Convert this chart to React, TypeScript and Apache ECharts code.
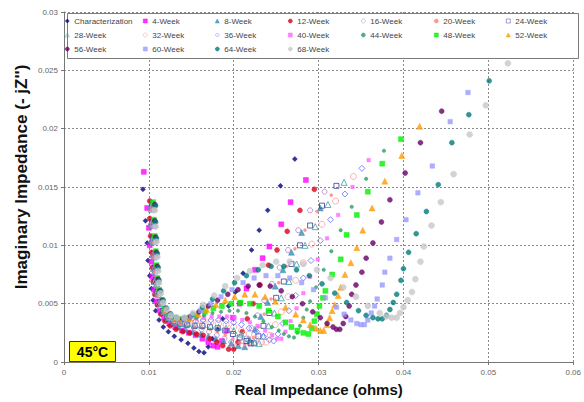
import React, { useEffect, useRef } from "react";
import * as echarts from "echarts";

// values in milli-ohms [Z', -Z'']
const seriesNames = [
  "Characterization", "4-Week", "8-Week", "12-Week", "16-Week", "20-Week", "24-Week",
  "28-Week", "32-Week", "36-Week", "40-Week", "44-Week", "48-Week", "52-Week",
  "56-Week", "60-Week", "64-Week", "68-Week",
];
const seriesColors = [
  "#000080", "#FF00FF", "#2F8FB5", "#D8001A", "#B07FC8", "#FF7F7F", "#3A3A9A",
  "#3AA3A3", "#FF9A9A", "#6A6AFF", "#FF66FF", "#2E9A66", "#00F000", "#FF9900",
  "#660066", "#9A9AFF", "#007B7B", "#C8C8C8",
];
const seriesSymbols = [
  "diamond", "rect", "triangle", "circle", "circle", "circle", "rect",
  "triangle", "circle", "diamond", "rect", "circle", "rect", "triangle",
  "circle", "rect", "circle", "circle",
];
const seriesHollow = [
  false, false, false, false, true, false, true,
  true, true, true, false, false, false, false,
  false, false, false, false,
];
const seriesSizes = [5, 5, 6, 5, 5, 3, 5, 6, 6, 6, 3.5, 3.5, 5, 6, 5, 4.5, 5, 6];

const characterization = [[9.3,14.8],[9.6,12.1],[9.8,10.2],[9.9,8.7],[10.1,7.4],[10.3,6.3],[10.5,5.3],[10.8,4.4],[11.2,3.6],[11.7,3.0],[12.3,2.6],[13.0,2.2],[13.8,1.9],[14.6,1.6],[15.3,1.2],[15.9,0.9],[16.5,0.8],[17.0,1.3],[17.5,2.0],[18.1,2.8],[18.7,3.7],[19.4,4.8],[20.2,6.0],[21.1,7.6],[22.1,9.6],[23.0,11.3],[24.0,13.0],[25.5,15.1],[27.2,17.4]];
const week4 = [[9.4,16.3],[9.8,13.2],[10.0,11.5],[10.1,10.0],[10.3,8.6],[10.4,7.3],[10.6,6.2],[10.9,5.2],[11.3,4.4],[11.8,3.8],[12.4,3.3],[13.1,3.0],[13.9,2.7],[14.7,2.5],[15.5,2.3],[16.3,2.0],[17.0,1.7],[17.6,1.4],[18.1,1.3],[18.6,1.8],[19.2,2.7],[19.9,3.8],[20.7,5.0],[21.5,6.3],[22.5,7.9],[23.4,8.9],[24.2,9.9],[25.6,11.8],[26.7,13.7],[28.5,15.6]];
const week8 = [[10.2,13.4],[10.2,11.9],[10.3,10.5],[10.4,9.2],[10.5,8.0],[10.6,6.9],[10.8,5.9],[11.1,5.0],[11.5,4.3],[12.0,3.7],[12.7,3.3],[13.5,3.0],[14.3,2.8],[15.2,2.6],[16.1,2.4],[17.0,2.2],[17.9,2.0],[18.8,1.8],[19.7,1.6],[20.5,1.4],[21.3,1.3],[21.9,1.9],[22.5,2.8],[23.2,3.9],[24.0,5.1],[24.9,6.5],[25.8,7.9],[26.8,9.4],[28.0,11.1],[30.2,13.2]];
const week12 = [[10.1,13.8],[10.1,12.3],[10.2,10.8],[10.3,9.4],[10.4,8.1],[10.5,6.9],[10.7,5.8],[11.0,4.9],[11.4,4.1],[11.9,3.5],[12.5,3.1],[13.2,2.8],[14.0,2.6],[14.8,2.5],[15.6,2.4],[16.4,2.3],[17.2,2.0],[18.0,1.7],[18.7,1.4],[19.4,1.1],[20.0,1.1],[20.5,1.7],[21.0,2.6],[21.6,3.7],[22.3,5.0],[23.1,6.6],[24.1,8.3],[25.1,9.6],[26.3,11.2],[27.8,13.0],[29.5,14.8]];
const week16 = [[10.3,13.2],[10.3,11.8],[10.4,10.4],[10.5,9.1],[10.6,7.9],[10.7,6.8],[10.9,5.8],[11.2,5.0],[11.6,4.3],[12.1,3.8],[12.8,3.4],[13.6,3.2],[14.4,3.0],[15.3,2.9],[16.2,2.8],[17.1,2.6],[18.0,2.3],[18.9,2.0],[19.7,1.7],[20.4,1.4],[21.0,1.4],[21.5,2.0],[22.1,2.9],[22.8,4.0],[23.6,5.3],[24.5,6.7],[25.4,8.1],[26.4,9.6],[27.6,11.3],[29.0,13.0],[30.7,14.6]];
const week20 = [[10.2,13.0],[10.3,11.6],[10.4,10.2],[10.5,8.9],[10.6,7.7],[10.8,6.6],[11.0,5.7],[11.3,4.9],[11.7,4.2],[12.2,3.7],[12.9,3.4],[13.7,3.2],[14.5,3.1],[15.4,3.0],[16.3,2.9],[17.2,2.8],[18.1,2.6],[19.0,2.3],[19.9,2.0],[20.7,1.7],[21.3,1.5],[21.8,1.5],[22.3,2.1],[22.9,3.0],[23.6,4.1],[24.4,5.4],[25.3,6.8],[26.2,8.2],[27.2,9.7],[28.4,11.3],[29.8,12.9],[31.5,14.3]];
const week24 = [[10.4,13.5],[10.4,12.0],[10.5,10.6],[10.6,9.3],[10.7,8.1],[10.8,7.0],[11.0,6.0],[11.3,5.1],[11.7,4.4],[12.2,3.9],[12.9,3.5],[13.7,3.3],[14.5,3.2],[15.4,3.1],[16.3,3.1],[17.2,3.0],[18.1,2.9],[19.0,2.7],[19.9,2.4],[20.7,2.1],[21.5,1.8],[22.0,1.6],[22.4,1.6],[22.9,2.2],[23.5,3.1],[24.2,4.2],[25.0,5.5],[25.9,6.9],[26.8,8.4],[27.8,10.0],[29.0,11.7],[30.4,13.4],[32.1,15.1]];
const week28 = [[10.3,13.1],[10.4,11.7],[10.5,10.3],[10.6,9.0],[10.7,7.8],[10.9,6.7],[11.1,5.8],[11.4,5.0],[11.8,4.3],[12.3,3.8],[13.0,3.5],[13.8,3.3],[14.6,3.3],[15.5,3.2],[16.4,3.2],[17.3,3.1],[18.2,3.0],[19.1,2.9],[20.0,2.7],[20.9,2.4],[21.7,2.0],[22.4,1.7],[23.0,1.6],[23.5,2.2],[24.1,3.1],[24.8,4.2],[25.6,5.5],[26.5,6.9],[27.4,8.4],[28.4,10.0],[29.6,11.6],[31.1,13.5],[33.0,15.4]];
const week32 = [[10.5,13.3],[10.5,11.9],[10.6,10.5],[10.7,9.2],[10.8,8.0],[10.9,6.9],[11.1,5.9],[11.4,5.1],[11.8,4.4],[12.3,3.9],[13.0,3.6],[13.8,3.4],[14.6,3.4],[15.5,3.4],[16.4,3.4],[17.3,3.4],[18.2,3.3],[19.1,3.2],[20.0,3.0],[20.9,2.7],[21.8,2.4],[22.6,2.0],[23.3,1.7],[23.8,1.7],[24.3,2.3],[24.9,3.2],[25.6,4.3],[26.4,5.6],[27.3,7.0],[28.2,8.5],[29.2,10.1],[30.4,11.8],[32.0,13.8],[34.1,15.9]];
const week36 = [[10.4,13.6],[10.5,12.1],[10.6,10.7],[10.7,9.4],[10.8,8.2],[10.9,7.1],[11.1,6.1],[11.4,5.2],[11.8,4.5],[12.3,4.0],[13.0,3.7],[13.8,3.5],[14.6,3.5],[15.5,3.5],[16.4,3.6],[17.3,3.6],[18.2,3.6],[19.1,3.5],[20.0,3.4],[20.9,3.2],[21.8,2.9],[22.7,2.6],[23.5,2.2],[24.2,1.9],[24.7,1.8],[25.2,2.4],[25.8,3.3],[26.5,4.4],[27.3,5.7],[28.2,7.2],[29.1,8.7],[30.2,10.4],[31.4,12.2],[33.1,14.4],[35.1,16.6]];
const week40 = [[10.5,13.0],[10.6,11.6],[10.7,10.3],[10.8,9.0],[10.9,7.9],[11.0,6.8],[11.2,5.9],[11.5,5.1],[11.9,4.5],[12.4,4.0],[13.1,3.7],[13.9,3.6],[14.7,3.6],[15.6,3.7],[16.5,3.8],[17.4,3.9],[18.3,3.9],[19.2,3.9],[20.1,3.8],[21.0,3.6],[21.9,3.4],[22.8,3.1],[23.7,2.7],[24.5,2.3],[25.1,2.0],[25.6,2.0],[26.1,2.6],[26.7,3.5],[27.4,4.6],[28.2,5.9],[29.0,7.3],[29.9,8.8],[31.0,10.6],[32.3,12.6],[34.0,15.0],[35.9,17.3]];
const week44 = [[10.6,13.4],[10.6,12.0],[10.7,10.6],[10.8,9.3],[10.9,8.1],[11.0,7.0],[11.2,6.0],[11.5,5.2],[11.9,4.5],[12.4,4.0],[13.1,3.7],[13.9,3.6],[14.7,3.7],[15.6,3.8],[16.5,4.0],[17.5,4.2],[18.5,4.3],[19.5,4.4],[20.5,4.4],[21.5,4.2],[22.5,3.9],[23.5,3.5],[24.5,3.0],[25.3,2.7],[25.9,2.4],[26.5,2.2],[27.1,2.1],[27.5,2.5],[27.8,3.1],[28.2,3.8],[28.6,4.5],[29.0,5.2],[29.7,6.4],[30.6,7.9],[31.5,9.5],[32.6,11.3],[33.9,13.3],[35.6,15.7],[37.7,18.1]];
const week48 = [[10.5,13.7],[10.6,12.2],[10.7,10.8],[10.8,9.5],[10.9,8.3],[11.0,7.2],[11.2,6.2],[11.5,5.3],[11.9,4.6],[12.4,4.1],[13.1,3.8],[13.9,3.7],[14.7,3.8],[15.6,4.0],[16.6,4.3],[17.6,4.6],[18.6,4.8],[19.7,5.0],[20.8,5.1],[21.9,5.0],[23.0,4.8],[24.1,4.4],[25.2,3.9],[26.1,3.4],[26.8,3.0],[27.5,2.7],[28.2,2.5],[28.8,2.4],[29.2,2.9],[29.5,3.5],[29.8,4.1],[30.1,4.8],[30.5,5.5],[30.8,6.1],[31.6,7.5],[32.6,8.8],[33.3,10.9],[34.5,12.6],[35.8,14.6],[37.5,17.0],[39.7,19.1]];
const week52 = [[10.6,13.2],[10.7,11.8],[10.8,10.5],[10.9,9.2],[11.0,8.0],[11.1,6.9],[11.3,6.0],[11.6,5.2],[12.0,4.5],[12.5,4.1],[13.2,3.8],[14.0,3.7],[14.8,3.8],[15.8,4.1],[16.8,4.5],[17.9,4.9],[19.0,5.3],[20.1,5.6],[21.3,5.8],[22.5,5.8],[23.7,5.6],[24.9,5.2],[26.1,4.7],[27.3,4.1],[28.2,3.6],[29.0,3.2],[29.7,2.9],[30.2,2.7],[30.6,2.7],[31.0,3.2],[31.3,3.8],[31.6,4.4],[31.9,4.9],[32.3,5.7],[32.6,6.4],[33.1,7.5],[33.8,8.5],[34.5,9.8],[35.2,11.3],[36.3,13.2],[37.8,15.5],[39.8,17.7],[41.9,20.2]];
const week56 = [[10.7,13.5],[10.7,12.1],[10.8,10.7],[10.9,9.4],[11.0,8.2],[11.1,7.1],[11.3,6.1],[11.6,5.3],[12.0,4.6],[12.5,4.1],[13.2,3.8],[14.0,3.7],[14.9,3.9],[15.9,4.3],[17.0,4.8],[18.1,5.3],[19.3,5.8],[20.5,6.2],[21.7,6.5],[23.0,6.6],[24.3,6.5],[25.6,6.1],[26.9,5.6],[28.1,5.0],[29.3,4.3],[30.2,3.8],[31.0,3.3],[31.7,3.0],[32.1,2.8],[32.5,2.8],[32.9,3.3],[33.2,3.9],[33.6,4.8],[33.9,5.8],[34.4,6.6],[35.1,7.7],[35.6,8.9],[36.4,10.2],[37.4,12.0],[38.4,13.9],[40.2,16.2],[42.0,18.8],[44.5,21.5]];
const week60 = [[10.6,13.1],[10.7,11.7],[10.8,10.4],[10.9,9.1],[11.0,7.9],[11.1,6.8],[11.3,5.9],[11.6,5.1],[12.0,4.5],[12.5,4.0],[13.2,3.8],[14.1,3.7],[15.0,3.9],[16.1,4.4],[17.3,5.0],[18.5,5.6],[19.8,6.2],[21.1,6.8],[22.4,7.2],[23.8,7.4],[25.2,7.4],[26.6,7.2],[28.0,6.8],[29.4,6.2],[30.8,5.5],[32.1,4.7],[33.0,4.1],[33.8,3.6],[34.5,3.3],[35.0,3.2],[35.4,3.2],[35.8,3.6],[36.2,4.2],[36.6,4.8],[36.9,5.4],[37.5,6.6],[37.8,7.7],[38.4,8.9],[39.2,10.5],[40.3,12.2],[41.7,14.5],[43.4,16.8],[45.5,20.6],[47.6,23.1]];
const week64 = [[10.8,13.4],[10.8,12.0],[10.9,10.6],[11.0,9.3],[11.1,8.1],[11.2,7.0],[11.4,6.1],[11.7,5.3],[12.1,4.6],[12.6,4.1],[13.3,3.8],[14.2,3.8],[15.2,4.1],[16.3,4.7],[17.5,5.4],[18.8,6.1],[20.1,6.8],[21.5,7.4],[22.9,7.9],[24.4,8.2],[25.9,8.2],[27.4,7.9],[28.9,7.4],[30.4,6.7],[31.9,5.9],[33.3,5.1],[34.7,4.4],[35.6,4.0],[36.4,3.8],[37.0,3.7],[37.5,3.7],[38.0,4.0],[38.4,4.5],[38.8,5.1],[39.2,5.8],[39.7,7.0],[40.0,8.0],[40.6,9.4],[41.5,11.0],[42.7,12.9],[44.1,15.2],[45.7,18.8],[47.7,21.2],[50.1,24.1]];
const week68 = [[10.7,13.0],[10.8,11.6],[10.9,10.3],[11.0,9.0],[11.1,7.8],[11.2,6.8],[11.4,5.9],[11.7,5.1],[12.1,4.5],[12.6,4.0],[13.3,3.8],[14.2,3.8],[15.2,4.2],[16.4,4.9],[17.7,5.7],[19.0,6.5],[20.4,7.2],[21.9,7.8],[23.4,8.3],[25.0,8.6],[26.6,8.6],[28.2,8.4],[29.8,7.9],[31.4,7.2],[32.9,6.4],[34.4,5.6],[35.8,4.8],[37.2,4.2],[38.0,3.9],[38.6,3.8],[39.2,3.8],[39.6,4.2],[40.0,4.7],[40.5,5.3],[41.0,6.0],[41.4,7.1],[42.0,8.6],[42.4,9.9],[43.3,11.7],[44.4,13.7],[45.9,16.1],[47.8,19.5],[49.7,22.0],[52.3,25.6]];

const seriesData = [
  characterization, week4, week8, week12, week16, week20, week24, week28, week32,
  week36, week40, week44, week48, week52, week56, week60, week64, week68,
];

// legend layout: 7 columns of up to 3 rows
const legendColumns = [
  ["Characterization", "28-Week", "56-Week"],
  ["4-Week", "32-Week", "60-Week"],
  ["8-Week", "36-Week", "64-Week"],
  ["12-Week", "40-Week", "68-Week"],
  ["16-Week", "44-Week"],
  ["20-Week", "48-Week"],
  ["24-Week", "52-Week"],
];
const legendLefts = [65, 143, 215, 288, 361, 434, 506];

const xAxisTitle = "Real Impedance (ohms)";
const yAxisTitle = "Imaginary Impedance (- jZ'')";
const badgeText = "45°C";

const FONT = "Liberation Sans, Arial, sans-serif";

export default function App() {
  const ref = useRef<HTMLDivElement>(null);
  useEffect(() => {
    if (!ref.current) return;
    const chart = echarts.init(ref.current, undefined, { renderer: "svg" });
    const series = seriesNames.map((name, i) => ({
      name,
      type: "scatter",
      symbol: seriesSymbols[i],
      symbolSize: seriesSizes[i],
      data: seriesData[i].map(([x, y]) => [x / 1000, y / 1000]),
      itemStyle: seriesHollow[i]
        ? { color: "rgba(255,255,255,0)", borderColor: seriesColors[i], borderWidth: 1 }
        : { color: seriesColors[i], borderColor: seriesColors[i], borderWidth: 0.5 },
      emphasis: { disabled: true },
    }));
    chart.setOption({
      animation: false,
      backgroundColor: "#ffffff",
      textStyle: { fontFamily: FONT },
      grid: { left: 64, right: 2, top: 12, bottom: 37 },
      xAxis: {
        type: "value",
        min: 0,
        max: 0.06,
        interval: 0.01,
        name: xAxisTitle,
        nameLocation: "middle",
        nameGap: 20,
        nameTextStyle: { fontSize: 15, fontWeight: "bold", color: "#111", fontFamily: FONT },
        axisLine: { show: true, onZero: false, lineStyle: { color: "#777", width: 1 } },
        axisTick: { show: true, length: 3, lineStyle: { color: "#777" } },
        axisLabel: { fontSize: 8, color: "#666", margin: 6, fontFamily: FONT },
        splitLine: { show: true, lineStyle: { color: "#8a8a8a", type: [2, 2], width: 1 } },
      },
      yAxis: {
        type: "value",
        min: 0,
        max: 0.03,
        interval: 0.005,
        axisLine: { show: true, onZero: false, lineStyle: { color: "#777", width: 1 } },
        axisTick: { show: true, length: 3, lineStyle: { color: "#777" } },
        axisLabel: { fontSize: 8, color: "#666", margin: 6, fontFamily: FONT },
        splitLine: { show: true, lineStyle: { color: "#8a8a8a", type: [2, 2], width: 1 } },
      },
      legend: legendColumns.map((col, c) => ({
        orient: "vertical",
        left: legendLefts[c],
        top: 16,
        data: col,
        itemWidth: 4,
        itemHeight: 4,
        itemGap: 4,
        padding: 0,
        selectedMode: false,
        itemStyle: { borderWidth: 0.6 },
        textStyle: { fontSize: 8, color: "#444", fontFamily: FONT, lineHeight: 10 },
      })),
      graphic: [
        {
          type: "text",
          x: 22,
          y: 177,
          rotation: Math.PI / 2,
          scaleX: 1.07,
          z: 10,
          style: {
            text: yAxisTitle,
            fill: "#111",
            font: "bold 16px Liberation Sans, Arial, sans-serif",
            textAlign: "center",
            textVerticalAlign: "middle",
          },
        },
        {
          type: "rect",
          left: 67,
          top: 13,
          shape: { width: 511, height: 45 },
          style: { fill: "#ffffff", stroke: "#7a7a7a", lineWidth: 1 },
          z: 3,
        },
        {
          type: "group",
          left: 69,
          top: 341,
          z: 10,
          children: [
            {
              type: "rect",
              shape: { x: 0, y: 0, width: 46, height: 20 },
              style: { fill: "#FFFF00", stroke: "#333", lineWidth: 1 },
            },
            {
              type: "text",
              x: 23,
              y: 10,
              style: {
                text: badgeText,
                fill: "#000",
                font: "bold 14px Liberation Sans, Arial, sans-serif",
                textAlign: "center",
                textVerticalAlign: "middle",
              },
            },
          ],
        },
      ],
      series,
    });
    return () => chart.dispose();
  }, []);
  return <div ref={ref} style={{ width: 584, height: 402, position: "absolute", left: 0, top: 0 }} />;
}
